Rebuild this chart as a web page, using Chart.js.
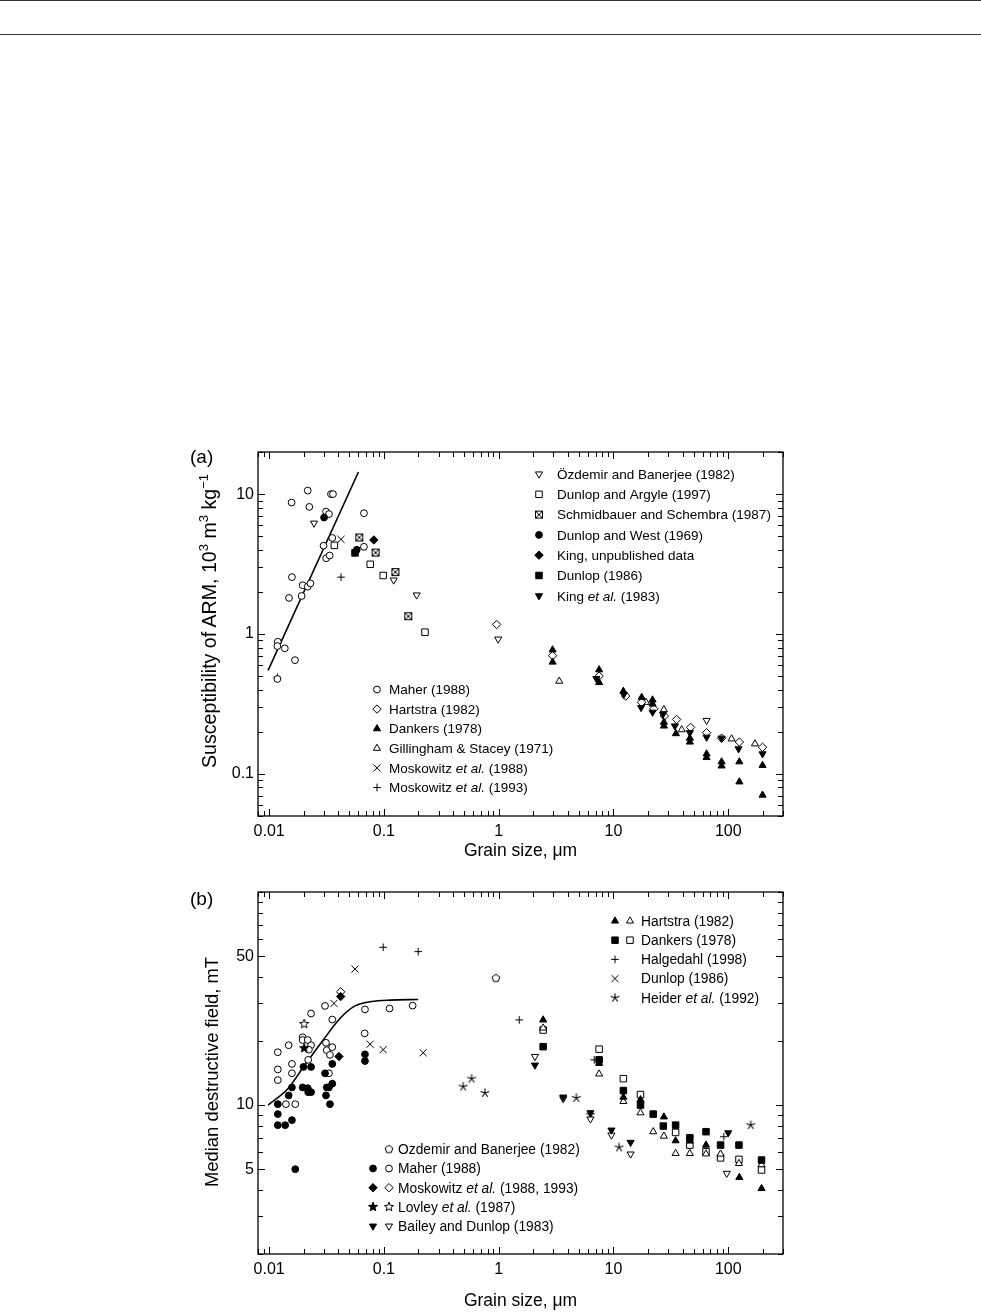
<!DOCTYPE html>
<html>
<head>
<meta charset="utf-8">
<script src="https://cdn.jsdelivr.net/npm/chart.js@4.4.1/dist/chart.umd.min.js"></script>
<style>
  body { margin: 0; background: #fff; }
  #page { position: relative; width: 981px; height: 1312px; overflow: hidden;
          font-family: 'Liberation Sans', Arial, Helvetica, sans-serif; color: #000; }
  .rule { position: absolute; left: 0; width: 981px; height: 1px; background: #333; }
  canvas { position: absolute; left: 0; }
  .panel { position: absolute; left: 190px; font-size: 19px; line-height: 1; }
  .ytitle { position: absolute; transform: translate(-50%, -50%) rotate(-90deg);
            white-space: nowrap; font-size: 18.4px; line-height: 1; }
  .ytitle sup { font-size: 13px; vertical-align: 0; position: relative; top: -8px; }
</style>
</head>
<body>
<div id="page">
  <div class="rule" style="top:0"></div>
  <div class="rule" style="top:34px"></div>
  <canvas id="chartA" width="981" height="440" style="top:430px"></canvas>
  <canvas id="chartB" width="981" height="442" style="top:870px"></canvas>
  <div class="panel" style="top:447px">(a)</div>
  <div class="panel" style="top:889px">(b)</div>
  <div class="ytitle" style="left:210px; top:621px; font-size:19.6px">Susceptibility of ARM, 10<sup>3</sup> m<sup>3</sup> kg<sup>&minus;1</sup></div>
  <div class="ytitle" style="left:212px; top:1072px">Median destructive field, mT</div>
</div>
<script>
// ---- axis ticks ----
const xTickVals = [0.01, 0.1, 1, 10, 100];
const xTickLabels = ['0.01', '0.1', '1', '10', '100'];
const yTickValsA = [0.1, 1, 10];
const yTickLabelsA = ['0.1', '1', '10'];
const yTickValsB = [5, 10, 50];
const yTickLabelsB = ['5', '10', '50'];

// ---- panel (a): susceptibility of ARM vs grain size [µm, 10^3 m^3/kg] ----
const maherA = [[0.0157, 8.7], [0.0217, 10.6], [0.0224, 8.1], [0.0346, 10.0], [0.036, 10.0], [0.0313, 7.5],
  [0.0332, 7.2], [0.067, 7.3], [0.0355, 4.86], [0.0298, 4.28], [0.0314, 3.48], [0.0337, 3.64], [0.067, 4.2],
  [0.0158, 2.55], [0.0196, 2.23], [0.0217, 2.18], [0.0229, 2.3], [0.0149, 1.81], [0.0192, 1.87],
  [0.0119, 0.88], [0.0118, 0.82], [0.0137, 0.79], [0.0168, 0.65], [0.0118, 0.477]];
const ozdemirA = [[0.0246, 6.2], [0.1216, 2.43], [0.193, 1.9], [0.99, 0.92], [64.8, 0.241]];
const dunlopArgyle = [[0.037, 4.3], [0.076, 3.15], [0.0986, 2.62], [0.228, 1.03]];
const schmidbauer = [[0.061, 4.9], [0.0847, 3.82], [0.126, 2.77], [0.163, 1.34]];
const dunlopWest = [[0.0301, 6.8], [0.058, 4.0]];
const kingUnpub = [[0.0818, 4.7]];
const dunlop86A = [[0.056, 3.8]];
const kingEtAl = [[7.1, 0.48], [12.3, 0.37], [17.4, 0.298], [21.9, 0.276], [27.0, 0.267], [34.3, 0.22],
  [46.3, 0.197], [64.8, 0.183], [87.5, 0.18], [123, 0.151], [199, 0.139]];
const hartstraA = [[0.96, 1.17], [2.95, 0.7], [7.5, 0.5], [12.8, 0.36], [17.6, 0.325], [22.5, 0.292],
  [27.8, 0.259], [35.5, 0.245], [47, 0.215], [64.8, 0.197], [87.5, 0.18], [125, 0.169], [199, 0.155]];
const dankersA = [[2.95, 0.77], [2.95, 0.63], [7.5, 0.555], [7.5, 0.45], [12.2, 0.39], [17.6, 0.353],
  [21.9, 0.338], [21.9, 0.316], [27.5, 0.234], [27.5, 0.22], [35, 0.194], [46.3, 0.18], [46.3, 0.169],
  [64.8, 0.139], [64.8, 0.131], [87.5, 0.122], [87.5, 0.114], [125, 0.122], [125, 0.0877],
  [199, 0.115], [199, 0.0705]];
const gillingham = [[3.37, 0.46], [19.2, 0.325], [27.5, 0.288], [39.3, 0.207], [107, 0.178], [171, 0.164]];
const moskowitz88A = [[0.0423, 4.75]];
const moskowitz93A = [[0.0423, 2.55], [0.0118, 0.49]];
const fitA = [[0.0098, 0.55], [0.06, 14.4]];

// ---- panel (b): median destructive field vs grain size [µm, mT] ----
const ozdemirB = [[0.946, 39.4]];
const maherFilled = [[0.0119, 10.1], [0.0119, 9.07], [0.0119, 8.05], [0.0138, 8.05], [0.0158, 8.5],
  [0.0148, 11.1], [0.0158, 12.1], [0.0169, 5.0], [0.0196, 12.1], [0.0217, 12.0], [0.0232, 11.5],
  [0.0219, 11.5], [0.0199, 15.1], [0.0232, 15.1], [0.0355, 15.6], [0.0307, 14.1], [0.0355, 12.6],
  [0.0332, 12.1], [0.0318, 12.1], [0.0313, 11.1], [0.0339, 10.1], [0.0684, 17.3], [0.0684, 16.1]];
const maherOpen = [[0.0119, 17.7], [0.0119, 14.7], [0.0119, 13.1], [0.0148, 19.1], [0.0158, 15.6],
  [0.0158, 14.1], [0.014, 10.1], [0.0169, 10.1], [0.0196, 20.8], [0.0196, 20.2], [0.0217, 20.2],
  [0.0232, 19.1], [0.0222, 18.2], [0.0219, 16.3], [0.0232, 26.9], [0.0307, 29.2], [0.0355, 25.2],
  [0.0313, 19.6], [0.0318, 18.1], [0.0355, 18.7], [0.0339, 17.2], [0.0332, 14.1], [0.0684, 28.1],
  [0.112, 28.4], [0.178, 29.3], [0.068, 21.7]];
const moskFilled = [[0.042, 32.3], [0.0406, 16.9]];
const moskOpen = [[0.042, 34.0]];
const lovleyFilled = [[0.0202, 18.5]];
const lovleyOpen = [[0.0202, 24.0]];
const baileyFilled = [[2.07, 15.4], [3.65, 10.9], [6.3, 9.2], [9.6, 7.63], [14.1, 6.68], [100, 7.41]];
const baileyOpen = [[2.07, 16.9], [3.65, 10.7], [6.3, 8.6], [9.6, 7.23], [14.1, 5.89], [97, 4.78]];
const hartstraFilled = [[2.44, 25.1], [7.5, 15.7], [12.2, 10.9], [17.2, 10.6], [27.5, 8.8], [46.3, 6.78],
  [34.8, 6.8], [64, 6.49], [125, 4.58], [195, 4.06]];
const hartstraOpen = [[2.44, 23.0], [7.5, 14.0], [12.2, 10.4], [17.2, 9.2], [22.2, 7.5], [27.5, 7.15],
  [34.8, 5.93], [46.3, 5.93], [64, 5.9], [85.7, 5.89], [124, 5.32], [195, 5.25]];
const dankersFilled = [[2.44, 18.8], [7.5, 16.3], [12.2, 11.7], [17.2, 10.0], [22.2, 9.07], [27.2, 7.97],
  [34.8, 8.05], [46.3, 7.02], [64, 7.5], [85.7, 6.49], [124, 6.49], [195, 5.52]];
const dankersOpen = [[2.44, 22.5], [7.5, 18.3], [12.2, 13.3], [17.2, 11.2], [34.8, 7.44], [46.3, 6.49],
  [64, 6.04], [85.7, 5.65], [124, 5.56], [195, 4.96]];
const halgedahl = [[0.0986, 55], [0.199, 52.5], [1.51, 25.1], [6.8, 16.3], [91.6, 7.1]];
const dunlopB = [[0.056, 43.5], [0.0367, 30.0], [0.0757, 19.3], [0.0986, 18.2], [0.22, 17.6]];
const heider = [[0.491, 12.2], [0.581, 13.3], [0.759, 11.4], [4.75, 10.8], [6.3, 9.0], [11.2, 6.33], [157, 8.05]];
const fitB = [[0.0098, 10.0], [0.0147, 12.0], [0.0199, 15.1], [0.0296, 20.2], [0.0414, 25.5],
  [0.056, 29.2], [0.078, 30.6], [0.113, 31.1], [0.199, 31.3]];

// ---- marker shapes not built into Chart.js ----
const makeMarker = (draw) => {
  const c = document.createElement('canvas');
  c.width = 12; c.height = 12;
  const g = c.getContext('2d');
  g.translate(6, 6);
  g.strokeStyle = '#000'; g.fillStyle = '#000'; g.lineWidth = 1;
  draw(g);
  return c;
};
const polygon = (g, n, rOut, rIn) => {
  g.beginPath();
  const k = rIn ? 2 * n : n;
  for (let i = 0; i < k; i++) {
    const r = rIn && i % 2 ? rIn : rOut;
    const a = -Math.PI / 2 + i * 2 * Math.PI / k;
    g.lineTo(r * Math.cos(a), r * Math.sin(a));
  }
  g.closePath();
};
const crossBox = makeMarker((g) => {
  g.fillStyle = '#fff'; g.fillRect(-3.5, -3.5, 7, 7); g.strokeRect(-3.5, -3.5, 7, 7);
  g.beginPath(); g.moveTo(-3.5, -3.5); g.lineTo(3.5, 3.5); g.moveTo(3.5, -3.5); g.lineTo(-3.5, 3.5); g.stroke();
});
const pentagonOpen = makeMarker((g) => { polygon(g, 5, 4); g.fillStyle = '#fff'; g.fill(); g.stroke(); });
const starFilled = makeMarker((g) => { polygon(g, 5, 4.8, 2); g.fill(); g.stroke(); });
const starOpen = makeMarker((g) => { polygon(g, 5, 4.8, 2); g.fillStyle = '#fff'; g.fill(); g.stroke(); });
const asterisk = makeMarker((g) => {
  g.lineWidth = 1.1;
  g.beginPath();
  for (let i = 0; i < 5; i++) {
    const a = -Math.PI / 2 + i * 2 * Math.PI / 5;
    g.moveTo(0, 0); g.lineTo(4.6 * Math.cos(a), 4.6 * Math.sin(a));
  }
  g.stroke();
});

const SHAPES = {
  circle: ['circle', 3.4, 0], triUp: ['triangle', 4.1, 0], triDown: ['triangle', 4.1, 180],
  square: ['rect', 4.6, 0], diamond: ['rectRot', 4.2, 0], plus: ['cross', 3.8, 0], times: ['crossRot', 5, 0],
  crossBox: [crossBox, 6, 0], pentagon: [pentagonOpen, 6, 0], starF: [starFilled, 6, 0],
  starO: [starOpen, 6, 0], asterisk: [asterisk, 6, 0]
};

const series = (key, data, shape, filled) => {
  const [style, r, rot] = SHAPES[shape];
  return {
    type: 'scatter', key, data: data.map(([x, y]) => ({x, y})),
    pointStyle: style, pointRadius: r, pointHoverRadius: r, pointRotation: rot,
    pointBackgroundColor: filled ? '#000' : '#fff', pointBorderColor: '#000', pointBorderWidth: 1, order: 0
  };
};
const fitLine = (key, data, smooth) => ({
  type: 'line', key, data: data.map(([x, y]) => ({x, y})), borderColor: '#000', borderWidth: 1.6,
  pointRadius: 0, fill: false, showLine: true, order: 1,
  cubicInterpolationMode: smooth ? 'monotone' : 'default', tension: 0
});

// ---- helpers for log axes ----
const labelFor = (vals, labels) => (v) => {
  const i = vals.findIndex((t) => Math.abs(Math.log10(v) - Math.log10(t)) < 1e-6);
  return i >= 0 ? labels[i] : '';
};
const keepIntegerMantissa = (scale) => {
  scale.ticks = scale.ticks.filter((t) => {
    const m = t.value / Math.pow(10, Math.floor(Math.log10(t.value) + 1e-9));
    return Math.abs(m - Math.round(m)) < 1e-6;
  });
};

// inward tick marks on all four sides + frame
const frameTicks = {
  id: 'frameTicks',
  afterDraw(chart) {
    const {ctx, chartArea: a} = chart;
    const xs = chart.scales.x, ys = chart.scales.y;
    ctx.save();
    ctx.strokeStyle = '#000';
    ctx.lineWidth = 1;
    ctx.beginPath();
    xs.ticks.forEach((t) => {
      const px = Math.round(xs.getPixelForValue(t.value)) + 0.5;
      const len = t.label ? 7 : 5;
      ctx.moveTo(px, a.bottom); ctx.lineTo(px, a.bottom - len);
      ctx.moveTo(px, a.top); ctx.lineTo(px, a.top + len);
    });
    ys.ticks.forEach((t) => {
      const py = Math.round(ys.getPixelForValue(t.value)) + 0.5;
      const len = t.label ? 7 : 5;
      ctx.moveTo(a.left, py); ctx.lineTo(a.left + len, py);
      ctx.moveTo(a.right, py); ctx.lineTo(a.right - len, py);
    });
    ctx.stroke();
    ctx.lineWidth = 1.3;
    ctx.strokeRect(a.left, a.top, a.right - a.left, a.bottom - a.top);
    ctx.restore();
  }
};

// legend blocks with marker columns and partly italic text
const drawRich = (ctx, text, x, y, size) => {
  const parts = text.split(/(<i>.*?<\/i>)/).filter((s) => s);
  parts.forEach((p) => {
    const it = p.startsWith('<i>');
    const s = it ? p.slice(3, -4) : p;
    ctx.font = `${it ? 'italic ' : ''}${size}px 'Liberation Sans', Arial, sans-serif`;
    ctx.fillText(s, x, y);
    x += ctx.measureText(s).width;
  });
};
const legendRows = {
  id: 'legendRows',
  afterDraw(chart, args, opts) {
    const ctx = chart.ctx;
    ctx.save();
    ctx.textBaseline = 'middle';
    opts.blocks.forEach((b) => {
      b.rows.forEach((row, i) => {
        const y = b.y + i * b.step - opts.top;
        row.sets.forEach((key, k) => {
          if (!key) return;
          const ds = chart.data.datasets.find((d) => d.key === key);
          ctx.fillStyle = ds.pointBackgroundColor;
          ctx.strokeStyle = '#000';
          ctx.lineWidth = 1;
          Chart.helpers.drawPoint(ctx, {pointStyle: ds.pointStyle, radius: ds.pointRadius,
            rotation: ds.pointRotation, borderWidth: 1}, b.markX[k], y);
        });
        ctx.fillStyle = '#000';
        drawRich(ctx, row.text, b.textX, y + 1, b.size);
      });
    });
    ctx.restore();
  }
};

Chart.defaults.font.family = "'Liberation Sans', Arial, Helvetica, sans-serif";
Chart.defaults.color = '#000';

const makeScales = (yMin, yMax, yVals, yLabels, xHeight) => ({
  x: {
    type: 'logarithmic', min: 0.008, max: 300,
    grid: {display: false, drawTicks: false}, border: {display: false},
    afterBuildTicks: keepIntegerMantissa,
    afterFit: (s) => { s.height = xHeight; },
    ticks: {autoSkip: false, maxRotation: 0, padding: 6, font: {size: 16}, color: '#000',
      callback: labelFor(xTickVals, xTickLabels)},
    title: {display: true, text: 'Grain size, μm', font: {size: 17.5}, color: '#000', padding: {top: 0, bottom: 0}}
  },
  y: {
    type: 'logarithmic', min: yMin, max: yMax,
    grid: {display: false, drawTicks: false}, border: {display: false},
    afterBuildTicks: keepIntegerMantissa,
    afterFit: (s) => { s.width = 68; },
    ticks: {autoSkip: false, padding: 4, font: {size: 16}, color: '#000', callback: labelFor(yVals, yLabels)}
  }
});

const baseOptions = (scales, legend, padBottom) => ({
  responsive: false, animation: false,
  layout: {padding: {left: 190, right: 198, top: 22, bottom: padBottom}},
  scales,
  plugins: {legend: {display: false}, tooltip: {enabled: false}, legendRows: legend}
});

new Chart(document.getElementById('chartA'), {
  type: 'scatter',
  data: {datasets: [
    series('dankersA', dankersA, 'triUp', true),
    series('kingEtAl', kingEtAl, 'triDown', true),
    series('hartstraA', hartstraA, 'diamond', false),
    series('gillingham', gillingham, 'triUp', false),
    series('ozdemirA', ozdemirA, 'triDown', false),
    series('dunlopArgyle', dunlopArgyle, 'square', false),
    series('schmidbauer', schmidbauer, 'crossBox', false),
    series('dunlopWest', dunlopWest, 'circle', true),
    series('kingUnpub', kingUnpub, 'diamond', true),
    series('dunlop86A', dunlop86A, 'square', true),
    series('maherA', maherA, 'circle', false),
    series('moskowitz88A', moskowitz88A, 'times', false),
    series('moskowitz93A', moskowitz93A, 'plus', false),
    fitLine('fitA', fitA, false)
  ]},
  options: baseOptions(makeScales(0.05, 20, yTickValsA, yTickLabelsA, 46), {
    top: 430,
    blocks: [
      {markX: [539], textX: 557, y: 474, step: 20.3, size: 13.5, rows: [
        {sets: ['ozdemirA'], text: 'Özdemir and Banerjee (1982)'},
        {sets: ['dunlopArgyle'], text: 'Dunlop and Argyle (1997)'},
        {sets: ['schmidbauer'], text: 'Schmidbauer and Schembra (1987)'},
        {sets: ['dunlopWest'], text: 'Dunlop and West (1969)'},
        {sets: ['kingUnpub'], text: 'King, unpublished data'},
        {sets: ['dunlop86A'], text: 'Dunlop (1986)'},
        {sets: ['kingEtAl'], text: 'King <i>et al.</i> (1983)'}
      ]},
      {markX: [377], textX: 389, y: 689.5, step: 19.6, size: 13.5, rows: [
        {sets: ['maherA'], text: 'Maher (1988)'},
        {sets: ['hartstraA'], text: 'Hartstra (1982)'},
        {sets: ['dankersA'], text: 'Dankers (1978)'},
        {sets: ['gillingham'], text: 'Gillingham & Stacey (1971)'},
        {sets: ['moskowitz88A'], text: 'Moskowitz <i>et al.</i> (1988)'},
        {sets: ['moskowitz93A'], text: 'Moskowitz <i>et al.</i> (1993)'}
      ]}
    ]
  }, 8),
  plugins: [frameTicks, legendRows]
});

new Chart(document.getElementById('chartB'), {
  type: 'scatter',
  data: {datasets: [
    series('hartstraFilled', hartstraFilled, 'triUp', true),
    series('dankersFilled', dankersFilled, 'square', true),
    series('hartstraOpen', hartstraOpen, 'triUp', false),
    series('dankersOpen', dankersOpen, 'square', false),
    series('baileyFilled', baileyFilled, 'triDown', true),
    series('baileyOpen', baileyOpen, 'triDown', false),
    series('halgedahl', halgedahl, 'plus', false),
    series('dunlopB', dunlopB, 'times', false),
    series('heider', heider, 'asterisk', false),
    series('ozdemirB', ozdemirB, 'pentagon', false),
    series('moskFilled', moskFilled, 'diamond', true),
    series('moskOpen', moskOpen, 'diamond', false),
    series('lovleyFilled', lovleyFilled, 'starF', true),
    series('lovleyOpen', lovleyOpen, 'starO', false),
    series('maherFilled', maherFilled, 'circle', true),
    series('maherOpen', maherOpen, 'circle', false),
    fitLine('fitB', fitB, true)
  ]},
  options: baseOptions(makeScales(2, 100, yTickValsB, yTickLabelsB, 58), {
    top: 870,
    blocks: [
      {markX: [615, 630], textX: 641, y: 921, step: 19.2, size: 13.8, rows: [
        {sets: ['hartstraFilled', 'hartstraOpen'], text: 'Hartstra (1982)'},
        {sets: ['dankersFilled', 'dankersOpen'], text: 'Dankers (1978)'},
        {sets: ['halgedahl'], text: 'Halgedahl (1998)'},
        {sets: ['dunlopB'], text: 'Dunlop (1986)'},
        {sets: ['heider'], text: 'Heider <i>et al.</i> (1992)'}
      ]},
      {markX: [373, 389], textX: 398, y: 1149.3, step: 19.2, size: 13.8, rows: [
        {sets: [null, 'ozdemirB'], text: 'Ozdemir and Banerjee (1982)'},
        {sets: ['maherFilled', 'maherOpen'], text: 'Maher (1988)'},
        {sets: ['moskFilled', 'moskOpen'], text: 'Moskowitz <i>et al.</i> (1988, 1993)'},
        {sets: ['lovleyFilled', 'lovleyOpen'], text: 'Lovley <i>et al.</i> (1987)'},
        {sets: ['baileyFilled', 'baileyOpen'], text: 'Bailey and Dunlop (1983)'}
      ]}
    ]
  }, 0),
  plugins: [frameTicks, legendRows]
});
</script>
</body>
</html>
